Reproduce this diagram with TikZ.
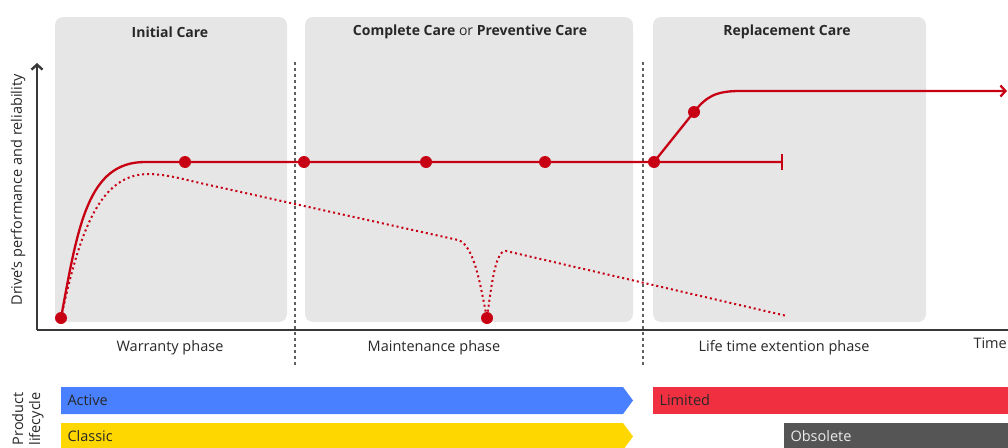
\documentclass[tikz,border=0pt]{standalone}
\usepackage{fontspec}
\setmainfont{Open Sans}
\usetikzlibrary{arrows.meta, calc}

\definecolor{boxgray}{RGB}{230,230,230}
\definecolor{perfred}{RGB}{200,0,20}
\definecolor{axisgray}{RGB}{55,55,55}
\definecolor{textgray}{RGB}{40,40,40}
\definecolor{activeblue}{RGB}{72,128,255}
\definecolor{classicyellow}{RGB}{255,215,0}
\definecolor{limitedred}{RGB}{240,48,64}
\definecolor{obsoletegray}{RGB}{85,85,85}

\begin{document}
\begin{tikzpicture}[
    x=1pt, y=-1pt, % pixel-like units, y pointing down
    >={Straight Barb[length=5pt, width=11pt]}, % open arrow tips
    dot/.style={fill=perfred, circle, inner sep=0pt, minimum size=12pt}, % points on the curve
    carebox/.style={fill=boxgray, rounded corners=8pt},
    title/.style={text=textgray, font=\fontsize{14}{16}\selectfont\bfseries},
    label/.style={text=textgray, font=\fontsize{14.5}{17}\selectfont},
    phasesep/.style={draw=axisgray!80, line width=1.3pt, dash pattern=on 3pt off 3pt},
    axis/.style={draw=axisgray, line width=2.4pt},
    perf/.style={draw=perfred, line width=2.3pt},
    decay/.style={draw=perfred, line width=2pt, dash pattern=on 2pt off 3pt},
    barlabel/.style={anchor=west, font=\fontsize{14.5}{17}\selectfont}
]
\useasboundingbox (0,0) rectangle (1008,447);

% Care boxes and titles
\fill[carebox] (55,17) rectangle (287,322);
\fill[carebox] (305,17) rectangle (633,322);
\fill[carebox] (653,17) rectangle (926,322);
\node[title] (tinit) at (170,32) {Initial Care};
\node[title] (tcomp) at (470,32) {Complete Care \mdseries or\ \bfseries Preventive Care};
\node[title] (trepl) at (787,32) {Replacement Care};

% Phase separators
\draw[phasesep] (295,62) -- (295,365);
\draw[phasesep] (643,62) -- (643,365);

% Axes
\coordinate (origin) at (37,330);
\coordinate (ytop) at (37,63);
\coordinate (xend) at (1008,330);
\draw[axis, ->] (origin) -- (ytop);
\draw[axis] (origin) -- (xend);
\node[label, rotate=90] (ylab) at (18,190) {Drive's performance and reliability};
\node[label, anchor=east, inner sep=1pt] (tlab) at (1008,343) {Time};

% Phase labels
\node[label] (pwarr) at (170,348) {Warranty phase};
\node[label] (pmain) at (434,348) {Maintenance phase};
\node[label] (plife) at (784,348) {Life time extention phase};

% Points on the curves
\coordinate (d0) at (61,318);
\coordinate (d1) at (185,162);
\coordinate (d2) at (304,162);
\coordinate (d3) at (426,162);
\coordinate (d4) at (545,162);
\coordinate (d5) at (654,162);
\coordinate (d6) at (694,112);
\coordinate (ddip) at (487,318);
\coordinate (stop) at (783,162);
\coordinate (goal) at (1007,91);

% Performance without care (dotted)
\draw[decay] (d0) .. controls (80,230) and (100,173) .. (150,174)
    .. controls (170,175) and (182,179) .. (200,183) -- (458,240)
    .. controls (475,245) and (481,290) .. (ddip)
    .. controls (492,280) and (496,250) .. (506,251) -- (787,316);

% Performance with care (solid)
\draw[perf, -{Bar[width=16pt]}] (d0) .. controls (78,225) and (88,162) .. (145,162) -- (stop);
\draw[perf, ->] (d5) -- (d6) .. controls (706,97) and (715,91) .. (740,91) -- (goal);

% Dots
\foreach \p in {d0,d1,d2,d3,d4,d5,d6,ddip}
    \node[dot] at (\p) {};

% Product lifecycle bars
\node[label, rotate=90, anchor=north east, align=right, inner sep=0pt,
    font=\fontsize{14.5}{17}\selectfont] (plc) at (12,392) {Product\\lifecycle};
\fill[activeblue] (61,387) -- (623,387) -- (633,400.5) -- (623,414) -- (61,414) -- cycle;
\node[barlabel, text=textgray] (active) at (64,400.5) {Active};
\fill[classicyellow] (61,423) -- (623,423) -- (633,436.5) -- (623,450) -- (61,450) -- cycle;
\node[barlabel, text=textgray] (classic) at (64,436.5) {Classic};
\fill[limitedred] (653,387) rectangle (1008,414);
\node[barlabel, text=textgray] (limited) at (656,400.5) {Limited};
\fill[obsoletegray] (784,423) rectangle (1008,450);
\node[barlabel, text=white!92!black] (obsolete) at (787,436.5) {Obsolete};

\end{tikzpicture}
\end{document}
